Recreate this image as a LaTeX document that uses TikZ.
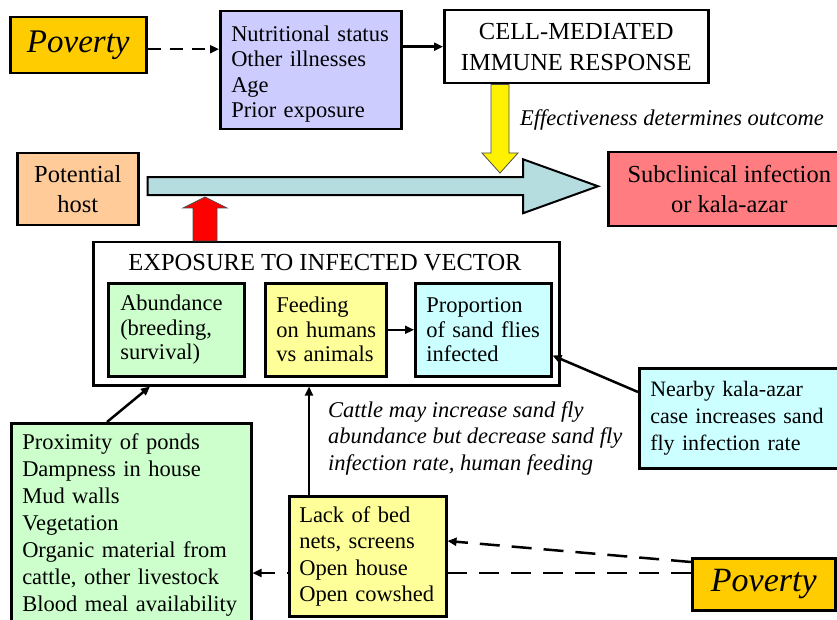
\documentclass[tikz,border=0pt]{standalone}
\usepackage{fontspec}
\setmainfont{Liberation Serif}
\usetikzlibrary{arrows.meta,calc}
\pgfdeclarelayer{background}
\pgfsetlayers{background,main}
\definecolor{povc}{HTML}{FFCC00}
\definecolor{nutc}{HTML}{CCCCFF}
\definecolor{hostc}{HTML}{FFCC99}
\definecolor{subc}{HTML}{FF7C80}
\definecolor{grnc}{HTML}{CCFFCC}
\definecolor{yelc}{HTML}{FFFF99}
\definecolor{cync}{HTML}{CCFFFF}
\definecolor{barc}{HTML}{B5DCDF}
\newcommand\oneline[1]{\mbox{#1}}
\begin{document}
\begin{tikzpicture}[x=1pt,y=-1pt,
  box/.style={draw, line width=2.5pt, anchor=north west, inner ysep=0pt},
  lbox/.style={box, align=left},
  cbox/.style={box, align=center},
  conn/.style={line width=2.5pt, -{Triangle[length=9pt,width=8pt]}},
  dconnA/.style={conn, dash pattern=on 13pt off 9pt},
  dconn/.style={conn, dash pattern=on 20pt off 12pt},
  blockarrow/.style={draw=black, line width=2pt, line join=miter},
  thinarrow/.style={draw=black!70, line width=0.8pt, line join=miter}
]
\useasboundingbox (0,0) rectangle (837,620);
\clip (0,0) rectangle (837,620);

% top row
\node[box, fill=povc, minimum width=136pt, minimum height=56pt,
      font=\itshape\fontsize{33}{36}\selectfont] (povA) at (9,16) {Poverty};
\node[lbox, fill=nutc, text width=159pt, inner xsep=11pt, minimum height=118pt,
      font=\fontsize{22.5}{25.5}\selectfont] (nutr) at (219,10)
      {\rule{0pt}{23pt}\oneline{Nutritional status}\\\oneline{Other illnesses}\\Age\\\oneline{Prior exposure}};
\node[cbox, fill=white, minimum width=264pt, minimum height=73pt,
      font=\fontsize{24.5}{31}\selectfont] (cmi) at (443,9)
      {CELL-MEDIATED\\IMMUNE RESPONSE};
\node[anchor=west, inner sep=0pt, font=\itshape\fontsize{22.5}{26}\selectfont]
      (eff) at (520,120) {Effectiveness determines outcome};

% middle row
\node[cbox, fill=hostc, minimum width=121pt, minimum height=72pt,
      font=\fontsize{24.5}{30}\selectfont] (host) at (16,152) {Potential\\host};
\node[cbox, fill=subc, minimum width=242pt, minimum height=74pt,
      font=\fontsize{24.5}{30}\selectfont] (sub) at (607,151)
      {Subclinical infection\\or kala-azar};

% big blue arrow
\coordinate (bs) at ([xshift=8pt,yshift=3pt]host.east);
\coordinate (bt) at ([xshift=-9pt,yshift=3pt]sub.west);
\draw[blockarrow, fill=barc]
  ($(bs)+(0pt,9pt)$) -- ($(bt)+(-75pt,9pt)$) -- ($(bt)+(-75pt,27pt)$) -- (bt)
  -- ($(bt)+(-75pt,-27pt)$) -- ($(bt)+(-75pt,-9pt)$) -- ($(bs)+(0pt,-9pt)$) -- cycle;

% yellow arrow from immune response
\coordinate (ys) at ([xshift=57pt]cmi.south west);
\coordinate (yt) at (500,173);
\draw[thinarrow, fill=yellow]
  ($(ys)+(-9pt,0pt)$) -- ($(yt)+(-9pt,20pt)$) -- ($(yt)+(-18pt,20pt)$) -- (yt)
  -- ($(yt)+(18pt,20pt)$) -- ($(yt)+(9pt,20pt)$) -- ($(ys)+(9pt,0pt)$) -- cycle;

% exposure box
\node[box, fill=white, minimum width=466pt, minimum height=143pt] (expo) at (92,241) {};
\node[font=\fontsize{24.5}{28}\selectfont, inner sep=0pt] (expot) at (325,263)
      {EXPOSURE TO INFECTED VECTOR};

% red arrow
\coordinate (rs) at ([xshift=113pt]expo.north west);
\coordinate (rt) at (205,197);
\draw[thinarrow, fill=red]
  ($(rs)+(-12pt,0pt)$) -- ($(rt)+(-12pt,-11pt)$) -- ($(rt)+(-22pt,-11pt)$) -- (rt)
  -- ($(rt)+(22pt,-11pt)$) -- ($(rt)+(12pt,-11pt)$) -- ($(rs)+(12pt,0pt)$) -- cycle;

\node[lbox, fill=grnc, text width=112pt, inner xsep=12pt, minimum height=93pt,
      font=\fontsize{22.5}{24.5}\selectfont] (abund) at (107,282)
      {\oneline{Abundance}\\\oneline{(breeding,}\\\oneline{survival)}};
\node[lbox, fill=yelc, text width=99pt, inner xsep=11pt, minimum height=93pt,
      font=\fontsize{22.5}{24.5}\selectfont] (feed) at (264,282)
      {\oneline{Feeding}\\\oneline{on humans}\\\oneline{vs animals}};
\node[lbox, fill=cync, text width=114pt, inner xsep=11pt, minimum height=93pt,
      font=\fontsize{22.5}{24.5}\selectfont] (prop) at (414,282)
      {\oneline{Proportion}\\\oneline{of sand flies}\\\oneline{infected}};

\node[lbox, fill=cync, text width=177pt, inner xsep=11pt, minimum height=100pt,
      font=\fontsize{22}{27}\selectfont] (near) at (638,367)
      {\oneline{Nearby kala-azar}\\\oneline{case increases sand}\\\oneline{fly infection rate}};

\node[anchor=north west, align=left, inner sep=0pt,
      font=\itshape\fontsize{22.5}{26.5}\selectfont] (cattle) at (328,401)
      {Cattle may increase sand fly\\abundance but decrease sand fly\\infection rate, human feeding};

% bottom row
\node[lbox, fill=grnc, text width=218pt, inner xsep=11pt, minimum height=204pt,
      font=\fontsize{22.5}{27}\selectfont] (green) at (10,422)
      {\oneline{Proximity of ponds}\\\oneline{Dampness in house}\\\oneline{Mud walls}\\\oneline{Vegetation}\\\oneline{Organic material from}\\\oneline{cattle, other livestock}\\\oneline{Blood meal availability}};
\node[lbox, fill=yelc, text width=137pt, inner xsep=10pt, minimum height=120pt,
      font=\fontsize{22.5}{26.5}\selectfont] (yb) at (288,495)
      {\oneline{Lack of bed}\\\oneline{nets, screens}\\\oneline{Open house}\\\oneline{Open cowshed}};
\node[box, fill=povc, minimum width=143pt, minimum height=52pt,
      font=\itshape\fontsize{34}{36}\selectfont] (povB) at (691,557) {Poverty};

% connectors
\coordinate (pa) at ([yshift=-4pt]povA.east);
\draw[dconnA] (pa) -- (pa -| nutr.west);
\draw[conn] (cmi.west -| nutr.east) -- (cmi.west);
\draw[conn] (feed.east) -- (prop.west);
\draw[conn] ([yshift=-25pt]near.north west) -- ([yshift=22pt]prop.south east);
\draw[conn] ([xshift=97pt]green.north west) -- ([xshift=58pt]expo.south west);
\coordinate (ybt) at ([xshift=21pt]yb.north west);
\draw[conn] (ybt) -- (ybt |- expo.south);
\draw[dconn] ([yshift=-5pt]povB.north west) -- ([yshift=-46pt]yb.north east);
\coordinate (pb) at ([yshift=-16pt]povB.north west);
\begin{pgfonlayer}{background}
\draw[dconn] (pb) -- (pb -| green.east);
\end{pgfonlayer}
\end{tikzpicture}
\end{document}
